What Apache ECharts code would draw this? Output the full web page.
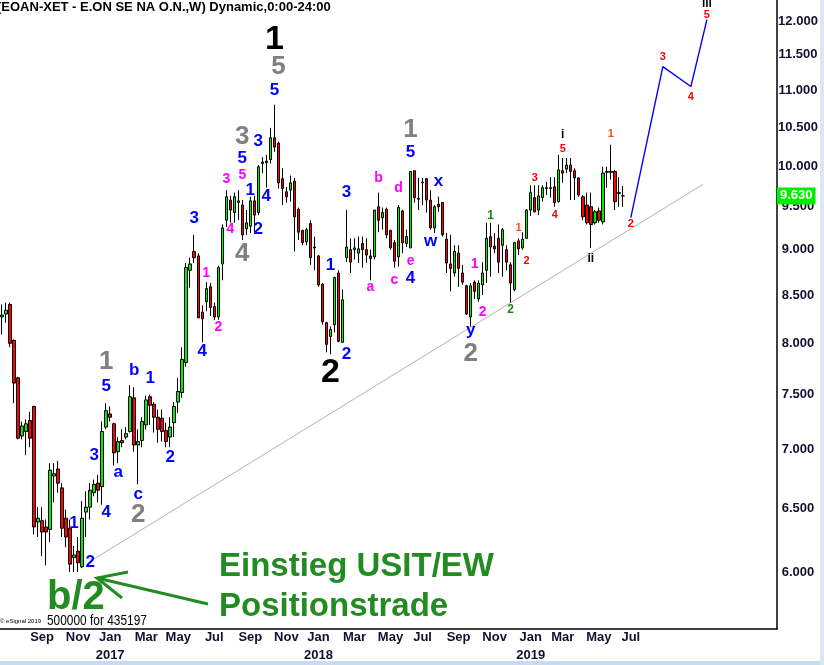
<!DOCTYPE html>
<html><head><meta charset="utf-8">
<script src="https://cdn.jsdelivr.net/npm/echarts@6/dist/echarts.min.js"></script>
<style>html,body{margin:0;padding:0;background:#fff}#c{width:824px;height:665px}</style>
</head><body><div id="c"></div><script>
// ---- data (weekly E.ON candles) ----
const firstWeekMonday = [2016, 5, 27]; // 27 Jun 2016
const totalWeeks = 194;                // incl. future weeks on the time axis
const firstLabelledWeek = 4;           // first month label is Sep 2016
const lastLabelledWeek = 157;          // month labels stop after Jul 2019
const opens = [8.27,8.30,8.40,8.03,7.66,7.12,7.16,7.26,7.39,6.39,6.40,6.35,6.33,6.77,6.83,6.67,6.42,6.34,6.11,6.16,
6.04,6.47,6.51,6.63,6.71,6.68,7.20,7.32,7.23,6.98,7.08,7.11,7.16,7.47,7.04,7.08,7.22,7.48,7.41,7.29,
7.28,7.17,7.11,7.24,7.43,7.52,7.81,8.77,8.98,8.93,8.32,8.43,8.59,8.38,8.27,8.84,9.34,9.58,9.43,9.55,
9.52,9.24,9.27,9.57,9.43,10.03,10.04,10.08,10.36,10.29,9.84,9.68,9.70,9.81,9.47,9.22,9.09,9.30,9.03,8.93,
8.62,8.21,8.07,8.19,8.74,8.01,8.91,9.00,9.00,8.96,9.07,9.00,8.93,8.92,9.50,9.37,9.47,9.22,9.08,8.92,
9.45,9.07,9.02,9.94,9.60,9.79,9.84,9.58,9.25,9.53,9.55,9.12,8.84,8.74,8.96,8.74,8.60,8.27,8.64,8.46,
8.61,8.77,9.15,9.04,9.13,9.05,9.00,8.83,8.56,9.10,9.02,9.13,9.46,9.61,9.46,9.61,9.72,9.73,9.74,9.56,
9.94,9.96,10.01,9.94,9.85,9.62,9.52,9.50,9.31,9.45,9.32,9.92,9.93,9.93,9.67,9.63];
const closes = [8.29,8.34,8.00,7.61,7.10,7.21,7.23,7.10,6.35,6.42,6.31,6.31,6.82,6.79,6.71,6.34,6.27,6.06,6.13,6.07,
6.42,6.51,6.65,6.70,6.65,7.16,7.35,7.29,6.97,7.07,7.06,7.14,7.48,7.04,7.07,7.25,7.45,7.40,7.29,7.18,
7.16,7.07,7.20,7.39,7.53,7.84,8.80,8.84,8.91,8.26,8.25,8.57,8.37,8.27,8.80,9.25,9.62,9.46,9.62,9.57,
9.17,9.31,9.57,9.40,9.99,10.05,10.06,10.36,10.24,9.79,9.72,9.62,9.79,9.38,9.20,9.08,9.23,8.91,9.02,8.61,
8.22,7.99,8.14,8.69,8.02,8.45,9.03,8.86,9.02,9.01,9.00,8.94,8.90,9.46,9.34,9.43,9.17,9.02,8.87,9.49,
9.08,9.15,9.93,9.61,9.59,9.80,9.58,9.25,9.50,9.50,9.17,8.85,8.79,8.98,8.79,8.64,8.30,8.60,8.54,8.63,
8.74,9.13,9.03,9.01,8.86,9.23,8.86,8.63,9.08,9.01,9.12,9.46,9.67,9.44,9.63,9.73,9.73,9.72,9.55,9.95,
9.91,10.01,9.93,9.85,9.64,9.38,9.31,9.29,9.44,9.34,9.91,9.93,9.92,9.56,9.66,9.63];
const lows = [8.09,8.21,7.96,7.42,7.09,7.09,6.95,7.02,6.29,6.27,6.12,6.05,6.23,6.55,6.63,6.27,6.19,6.00,6.00,6.00,
6.03,6.27,6.41,6.60,6.55,6.53,7.18,7.25,6.86,6.88,7.02,7.09,7.15,6.98,6.70,7.02,7.18,7.22,7.15,7.06,
7.07,7.02,7.02,7.11,7.33,7.47,7.77,8.58,8.85,8.26,8.01,8.33,8.28,8.24,8.24,8.66,9.26,9.31,9.31,9.34,
9.11,9.17,9.19,9.20,9.40,9.91,9.73,10.03,10.18,9.72,9.52,9.55,9.56,8.98,9.11,9.05,9.05,8.83,8.77,8.59,
8.19,7.91,7.89,8.11,8.01,8.01,8.86,8.74,8.89,8.85,8.80,8.85,8.66,8.89,9.20,9.23,9.13,9.00,8.80,8.81,
8.96,9.03,9.02,9.55,9.46,9.52,9.43,9.23,9.19,9.44,9.15,8.74,8.54,8.70,8.59,8.61,8.29,8.17,8.46,8.43,
8.50,8.63,8.70,8.96,8.74,8.70,8.77,8.42,8.54,8.94,9.00,9.12,9.39,9.43,9.40,9.56,9.64,9.61,9.50,9.55,
9.79,9.91,9.58,9.58,9.62,9.34,9.29,9.02,9.29,9.31,9.29,9.73,9.83,9.46,9.50,9.50];
const highs = [8.40,8.42,8.42,8.04,7.67,7.25,7.27,7.34,7.39,6.51,6.51,6.41,6.88,6.88,6.90,6.71,6.49,6.41,6.20,6.27,
6.56,6.64,6.71,6.74,6.78,7.25,7.42,7.39,7.24,7.11,7.18,7.20,7.59,7.57,7.18,7.29,7.49,7.50,7.43,7.36,
7.36,7.24,7.29,7.43,7.66,7.96,8.85,8.91,9.17,8.96,8.39,8.64,8.63,8.42,8.82,9.29,9.70,9.63,9.67,9.70,
9.58,9.46,9.62,9.63,10.01,10.11,10.14,10.49,10.80,10.31,9.97,9.74,9.88,9.85,9.49,9.23,9.25,9.34,9.15,8.94,
8.63,8.22,8.17,8.70,8.77,8.56,9.46,9.13,9.13,9.15,9.15,9.13,9.00,9.46,9.67,9.49,9.49,9.23,9.11,9.52,
9.46,9.23,9.93,9.94,9.85,9.85,9.85,9.70,9.52,9.62,9.55,9.19,9.17,9.05,9.05,8.83,8.61,8.63,8.66,8.66,
8.86,9.31,9.31,9.19,9.29,9.25,9.05,8.86,9.09,9.13,9.20,9.47,9.76,9.76,9.76,9.76,9.80,9.86,9.86,10.14,
10.10,10.10,10.10,9.97,9.86,9.64,9.67,9.67,9.46,9.49,9.99,9.99,10.27,9.95,9.86,9.75];
const priceTicks = [6,6.5,7,7.5,8,8.5,9,9.5,10,10.5,11,11.5,12];
const trendLine = [[23,6.10],[175,9.77]];
const projection = [[156.75,9.37],[165,11.33],[172,11.05],[176.25,12.02]];
// wave labels: [text, week index, price]
const blackBig = [['1',68.25,11.72],['2',82.25,7.71]];
const greyBig = [['5',68.5,11.33],['3',60,10.37],['4',60,8.95],['1',102,10.46],['2',117,7.89],['2',34,6.45],['1',26,7.82]];
const blueLabels = [['5',68.25,11.00],['3',64.25,10.31],['5',60.25,10.09],['1',62,9.70],['4',66,9.62],['2',64.25,9.23],
 ['3',48.25,9.36],['4',50.25,7.92],['1',82.25,8.82],['2',86.25,7.89],['3',86.25,9.67],['4',102.25,8.68],['5',102.25,10.17],
 ['x',109,9.81],['w',106.5,9.09],['y',117,8.13],['1',18.25,6.38],['2',22.25,6.07],['3',22.5,6.95],['4',25.5,6.47],
 ['a',28.5,6.80],['c',34.25,6.62],['5',26.25,7.58],['b',32.5,7.73],['1',37.25,7.66],['2',41.5,6.93]];
const magentaLabels = [['5',60,9.89],['3',56,9.83],['4',57,9.23],['1',51,8.74],['2',54,8.16],['a',92,8.59],['b',94,9.85],
 ['c',98.25,8.66],['d',99,9.72],['e',102,8.87],['1',118,8.84],['2',120,8.32]];
const greenLabels = [['1',121.75,9.39],['2',127,8.35]];
const orangeLabels = [['1',128.5,9.25],['1',151.5,10.41]];
const redLabels = [['2',130.75,8.87],['3',132.75,9.85],['4',137.75,9.40],['5',139.75,10.22],['2',156.75,9.30],
 ['3',164.5,11.47],['4',171.75,10.91],['5',175.75,12.09]];
const romanLabels = [['i',139.5,10.40],['ii',147,8.90],['iii',175.75,12.27]];

// ---- build ----
const MONTHS = ['Jan','Feb','Mar','Apr','May','Jun','Jul','Aug','Sep','Oct','Nov','Dec'];
const weekDates = [];
for (let i = 0; i < totalWeeks; i++) {
  weekDates.push(new Date(Date.UTC(firstWeekMonday[0], firstWeekMonday[1], firstWeekMonday[2] + 7 * i)));
}
const cats = weekDates.map(d => d.toISOString().slice(0, 10));
function isMonthLabel(i) {
  if (i < firstLabelledWeek || i > lastLabelledWeek) return false;
  const m = weekDates[i].getUTCMonth();
  return m !== weekDates[i - 1].getUTCMonth() && m % 2 === 0;
}
const candles = opens.map((o, i) => [o, closes[i], lows[i], highs[i]]);
const ARIAL = "'Liberation Sans',Arial,sans-serif";

function labelSeries(list, color, size) {
  return {
    type: 'scatter', symbol: 'circle', symbolSize: 1, z: 5, silent: true, clip: false,
    itemStyle: { color: 'rgba(0,0,0,0)', opacity: 1 },
    data: list.map(l => ({ value: [l[1], l[2]], name: l[0] })),
    label: { show: true, position: 'inside', formatter: p => p.name, opacity: 1,
      color: color, fontSize: size, fontWeight: 'bold', fontFamily: ARIAL },
    labelLayout: { hideOverlap: false }
  };
}

const tickMarks = priceTicks.map(v => ({ yAxis: v, label: { formatter: v.toFixed(3) } }));
const lastPrice = closes[closes.length - 1];
tickMarks.push({ yAxis: lastPrice, label: { formatter: lastPrice.toFixed(3), backgroundColor: '#00f000',
  color: '#ffffff', align: 'left', distance: 0, padding: [2, 3, 2, 3] } });

const chart = echarts.init(document.getElementById('c'), null, { renderer: 'canvas' });
chart.setOption({
  animation: false,
  backgroundColor: '#ffffff',
  grid: { left: 0, right: 47, top: 0, bottom: 36, containLabel: false, outerBoundsMode: 'none' },
  xAxis: {
    type: 'category', data: cats, boundaryGap: true,
    axisLine: { show: true, lineStyle: { color: '#000', width: 1.5 } },
    axisTick: { show: false }, splitLine: { show: false },
    axisLabel: {
      interval: (i) => isMonthLabel(i),
      formatter: (v, i) => {
        const d = weekDates[i];
        const m = MONTHS[d.getUTCMonth()];
        return d.getUTCMonth() === 0 ? m + '\n' + d.getUTCFullYear() : m;
      },
      color: '#101030', fontWeight: 'bold', fontSize: 13, fontFamily: ARIAL, margin: -1, lineHeight: 18
    }
  },
  yAxis: {
    type: 'log', logBase: 10, min: 5.585, max: 12.321, position: 'right',
    axisLine: { show: true, lineStyle: { color: '#000', width: 1.5 } },
    axisTick: { show: false }, axisLabel: { show: false }, splitLine: { show: false }
  },
  series: [
    { type: 'line', data: trendLine, symbol: 'none', silent: true, z: 1,
      lineStyle: { color: '#b4b4b4', width: 1 } },
    { type: 'candlestick', data: candles, barWidth: 3, z: 3,
      itemStyle: { color: '#00f000', color0: '#ff0000', borderColor: '#000', borderColor0: '#000', borderWidth: 1 },
      markLine: { silent: true, symbol: 'none', animation: false, precision: 3,
        lineStyle: { width: 1, color: 'rgba(0,0,0,0)' },
        label: { show: true, position: 'end', distance: 21, align: 'center',
          color: '#101030', fontWeight: 'bold', fontSize: 13, fontFamily: ARIAL },
        data: tickMarks } },
    { type: 'line', data: projection, symbol: 'none', silent: true, z: 4,
      lineStyle: { color: '#0000ff', width: 1.4 } },
    labelSeries(blackBig, '#000000', 34),
    labelSeries(greyBig, '#808080', 26),
    labelSeries(blueLabels, '#0000ff', 17),
    labelSeries(magentaLabels, '#ff00ff', 14),
    labelSeries(greenLabels, '#1f7f1f', 12),
    labelSeries(orangeLabels, '#ff4a20', 11),
    labelSeries(redLabels, '#ff0000', 11),
    labelSeries(romanLabels, '#000000', 12)
  ],
  graphic: [
    { type: 'text', x: -3, y: 7, style: { text: '(EOAN-XET - E.ON SE NA O.N.,W) Dynamic,0:00-24:00',
      font: "bold 13px 'Liberation Sans'", fill: '#000', verticalAlign: 'middle' } },
    { type: 'text', x: 219, y: 567, style: { text: 'Einstieg USIT/EW', font: "bold 33px 'Liberation Sans'",
      fill: '#228b22', verticalAlign: 'middle' } },
    { type: 'text', x: 219, y: 607, style: { text: 'Positionstrade', font: "bold 33px 'Liberation Sans'",
      fill: '#228b22', verticalAlign: 'middle' } },
    { type: 'text', x: 47, y: 598, style: { text: 'b/2', font: "bold 40px 'Liberation Sans'",
      fill: '#228b22', verticalAlign: 'middle' } },
    { type: 'polyline', shape: { points: [[208, 604], [97, 578]] }, style: { stroke: '#228b22', lineWidth: 3 } },
    { type: 'polyline', shape: { points: [[128, 572], [97, 578], [122, 598]] }, style: { stroke: '#228b22', lineWidth: 3, fill: null } },
    { type: 'text', x: 0, y: 621, style: { text: '© eSignal 2019', font: "6px 'Liberation Sans'", fill: '#000', verticalAlign: 'middle' } },
    { type: 'text', x: 47, y: 621, scaleX: 0.85, style: { text: '500000 for 435197', font: "14px 'Liberation Sans'", fill: '#000', verticalAlign: 'middle' } },
    { type: 'rect', shape: { x: 0, y: 661, width: 824, height: 4 }, style: { fill: '#c9dbf2' } },
    { type: 'rect', shape: { x: 820, y: 0, width: 4, height: 665 }, style: { fill: '#dce7f5' } }
  ]
});
</script></body></html>
